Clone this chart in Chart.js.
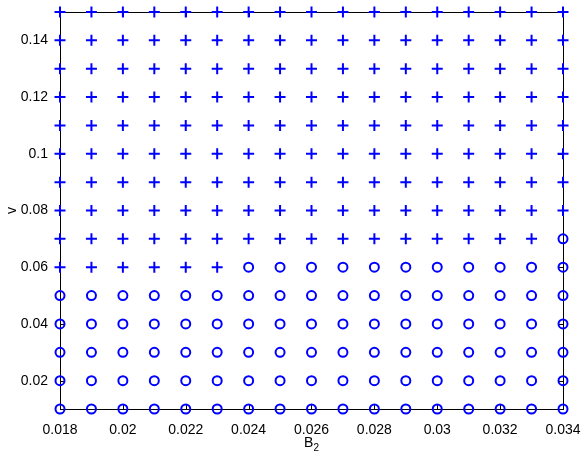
<!DOCTYPE html>
<html>
<head>
<meta charset="utf-8">
<script src="https://cdn.jsdelivr.net/npm/chart.js@4"></script>
<style>
  html, body { margin: 0; padding: 0; background: #fff; }
  #wrap { width: 582px; height: 456px; position: relative; }
</style>
</head>
<body>
<div id="wrap"><canvas id="myChart" width="582" height="456"></canvas></div>
<script>
// B2 grid (x)
var b2Values = [0.018, 0.019, 0.020, 0.021, 0.022, 0.023, 0.024, 0.025, 0.026,
                0.027, 0.028, 0.029, 0.030, 0.031, 0.032, 0.033, 0.034];
// v grid (y)
var vValues = [0.01, 0.02, 0.03, 0.04, 0.05, 0.06, 0.07, 0.08,
               0.09, 0.10, 0.11, 0.12, 0.13, 0.14, 0.15];
// for every B2 column: first v where the marker is a "+" (below that it is an "o")
var crossFrom = [0.06, 0.06, 0.06, 0.06, 0.06, 0.06, 0.07, 0.07, 0.07,
                 0.07, 0.07, 0.07, 0.07, 0.07, 0.07, 0.07, 0.08];
// tick labels
var xTicks = [0.018, 0.020, 0.022, 0.024, 0.026, 0.028, 0.030, 0.032, 0.034];
var xTickLabels = ["0.018", "0.02", "0.022", "0.024", "0.026", "0.028", "0.03", "0.032", "0.034"];
var yTicks = [0.02, 0.04, 0.06, 0.08, 0.10, 0.12, 0.14];
var yTickLabels = ["0.02", "0.04", "0.06", "0.08", "0.1", "0.12", "0.14"];

// punkte razdelimo v dve skupini
var crossPoints = [];
var circlePoints = [];
for (var i = 0; i < b2Values.length; i++) {
  for (var j = 0; j < vValues.length; j++) {
    var p = { x: b2Values[i], y: vValues[j] };
    if (vValues[j] >= crossFrom[i] - 1e-9) crossPoints.push(p);
    else circlePoints.push(p);
  }
}

var FAMILY = "'Liberation Sans', Arial, sans-serif";
var FONT = { family: FAMILY, size: 14 };

// okvir, notranje oznake in naslov x osi (B s podpisano 2)
var boxPlugin = {
  id: "box",
  beforeDatasetsDraw: function(chart) {
    var ctx = chart.ctx, a = chart.chartArea;
    var xs = chart.scales.x, ys = chart.scales.y;
    ctx.save();
    ctx.strokeStyle = "#000";
    ctx.lineWidth = 1;
    ctx.beginPath();
    xTicks.forEach(function(t) {
      var px = Math.round(xs.getPixelForValue(t)) + 0.5;
      ctx.moveTo(px, a.bottom); ctx.lineTo(px, a.bottom - 5);
      ctx.moveTo(px, a.top); ctx.lineTo(px, a.top + 5);
    });
    yTicks.forEach(function(t) {
      var py = Math.round(ys.getPixelForValue(t)) + 0.5;
      ctx.moveTo(a.left, py); ctx.lineTo(a.left + 5, py);
      ctx.moveTo(a.right, py); ctx.lineTo(a.right - 5, py);
    });
    ctx.stroke();
    ctx.strokeRect(Math.round(a.left) + 0.5, Math.round(a.top) + 0.5,
                   Math.round(a.right - a.left), Math.round(a.bottom - a.top));
    // x title
    var cx = (a.left + a.right) / 2;
    ctx.fillStyle = "#000";
    ctx.textBaseline = "alphabetic";
    ctx.font = "14px " + FAMILY;
    var wB = ctx.measureText("B").width;
    ctx.font = "10px " + FAMILY;
    var w2 = ctx.measureText("2").width;
    var x0 = cx - (wB + w2) / 2;
    ctx.font = "14px " + FAMILY;
    ctx.textAlign = "left";
    ctx.fillText("B", x0, 447);
    ctx.font = "10px " + FAMILY;
    ctx.fillText("2", x0 + wB, 451);
    ctx.restore();
  }
};

new Chart(document.getElementById("myChart"), {
  type: "scatter",
  data: {
    datasets: [{
      label: "+",
      data: crossPoints,
      pointStyle: "cross",
      pointRadius: 5.5,
      borderWidth: 2,
      borderColor: "#0000ff",
      backgroundColor: "#0000ff"
    }, {
      label: "o",
      data: circlePoints,
      pointStyle: "circle",
      pointRadius: 4.5,
      borderWidth: 2,
      borderColor: "#0000ff",
      backgroundColor: "rgba(0,0,0,0)"
    }]
  },
  options: {
    responsive: false,
    animation: false,
    devicePixelRatio: 1,
    clip: false,
    layout: { padding: { top: 12, right: 19, left: 0, bottom: 0 } },
    plugins: { legend: { display: false }, tooltip: { enabled: false } },
    elements: { point: { hoverRadius: 5 } },
    scales: {
      x: {
        type: "linear", min: 0.018, max: 0.034,
        grid: { display: false },
        border: { display: false },
        afterBuildTicks: function(s) { s.ticks = xTicks.map(function(v) { return { value: v }; }); },
        afterFit: function(s) { s.height = 47; s.paddingLeft = 0; s.paddingRight = 0; },
        ticks: {
          color: "#000", font: FONT, padding: 5, maxRotation: 0, autoSkip: false,
          callback: function(v, idx) { return xTickLabels[idx]; }
        }
      },
      y: {
        type: "linear", min: 0.01, max: 0.15,
        grid: { display: false },
        border: { display: false },
        afterBuildTicks: function(s) { s.ticks = yTicks.map(function(v) { return { value: v }; }); },
        afterFit: function(s) { s.width = 60; s.paddingTop = 0; s.paddingBottom = 0; },
        ticks: {
          color: "#000", font: FONT, padding: 4, autoSkip: false,
          callback: function(v, idx) { return yTickLabels[idx]; }
        },
        title: { display: true, text: "v", color: "#000", font: FONT, padding: { top: 4, bottom: 0 } }
      }
    }
  },
  plugins: [boxPlugin]
});
</script>
</body>
</html>
